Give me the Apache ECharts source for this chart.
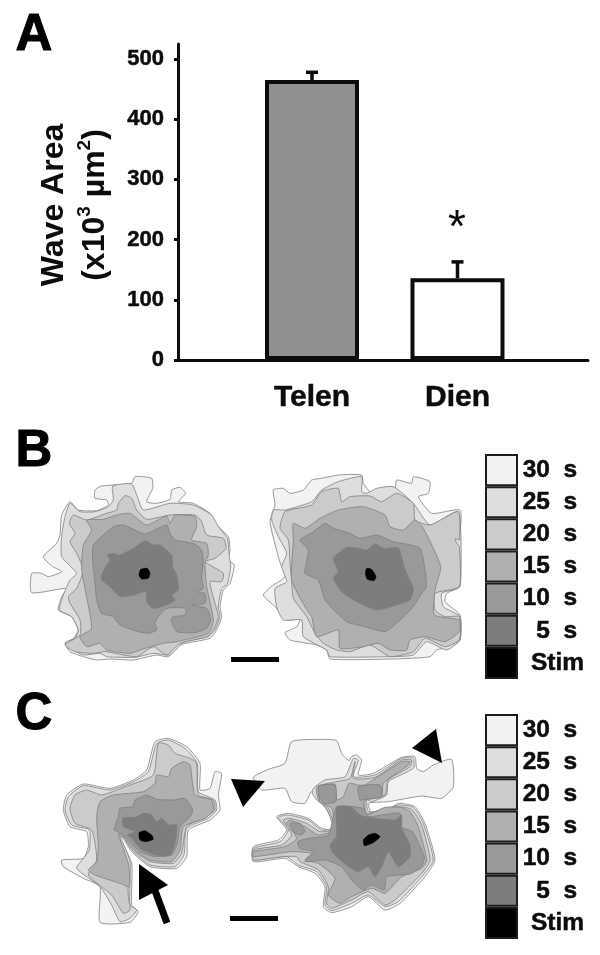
<!DOCTYPE html>
<html>
<head>
<meta charset="utf-8">
<style>html,body{margin:0;padding:0;background:#fff}#c{width:600px;height:955px}</style>
<script src="https://cdn.jsdelivr.net/npm/echarts@6/dist/echarts.min.js"></script>
</head>
<body>
<div id="c"></div>
<script>
// ---- Panel A data ----
var categories = ['Telen', 'Dien'];
var waveArea = [465, 136];
var waveAreaUpper = [478, 163];
var yTicks = [0, 100, 200, 300, 400, 500];
var barColors = ['#8f8f8f', '#ffffff'];

// ---- Legend data ----
var legendLabels = ['30  s', '25  s', '20  s', '15  s', '10  s', '5  s', 'Stim'];
var levelColors = ['#f2f2f2', '#dedede', '#cbcbcb', '#b0b0b0', '#999999', '#7d7d7d', '#000000'];

// ---- Contours (map units, y downward) ----
var b1_30 = [[335,70],[345,50],[395,55],[398,85],[380,125],[410,130],[450,118],[455,90],[480,82],[497,100],[475,125],[520,130],[570,160],[590,195],[625,230],[630,270],[625,300],[643,315],[630,370],[610,390],[600,440],[605,470],[590,510],[570,535],[480,555],[445,590],[410,585],[340,600],[270,597],[230,600],[190,590],[150,575],[135,550],[160,535],[175,510],[155,470],[115,450],[125,410],[140,385],[35,398],[35,340],[65,340],[85,350],[125,335],[95,318],[70,290],[110,250],[120,225],[125,165],[150,125],[175,150],[230,152],[265,135],[260,120],[225,115],[225,90],[245,78]];
var b1_25 = [[278,78],[335,72],[352,110],[370,150],[450,130],[520,135],[575,165],[595,200],[622,235],[628,290],[632,320],[622,372],[605,385],[595,440],[600,470],[585,510],[565,530],[490,548],[450,585],[400,580],[345,592],[260,590],[240,580],[190,585],[160,570],[135,548],[165,535],[175,510],[155,470],[118,450],[130,405],[150,360],[170,340],[125,290],[125,230],[135,170],[150,130],[180,155],[225,155],[265,140],[280,120]];
var b1_20 = [[295,130],[315,107],[335,115],[350,150],[380,178],[450,165],[525,165],[545,185],[560,225],[610,235],[618,265],[585,295],[555,305],[610,340],[605,365],[570,365],[585,430],[595,470],[580,510],[560,530],[480,550],[440,585],[400,560],[350,590],[260,575],[250,575],[220,580],[165,575],[135,555],[180,525],[180,480],[150,430],[145,410],[170,385],[190,330],[170,280],[150,245],[165,220],[148,190],[160,165],[200,180],[260,160],[290,150]];
var b1_15 = [[200,180],[250,178],[290,165],[330,160],[380,195],[440,168],[450,190],[465,165],[525,170],[530,200],[515,240],[560,250],[565,285],[555,310],[560,380],[580,480],[565,520],[470,545],[430,550],[360,570],[330,580],[260,570],[240,550],[200,560],[180,530],[215,505],[185,330],[190,255],[215,210]];
var b1_10 = [[220,255],[280,200],[310,195],[345,210],[375,222],[440,195],[450,220],[465,240],[520,250],[545,270],[550,300],[545,355],[550,385],[530,395],[555,400],[555,430],[515,435],[560,445],[572,480],[560,505],[525,518],[470,515],[453,480],[460,470],[495,465],[497,445],[440,445],[415,470],[405,490],[410,510],[385,520],[355,515],[300,495],[280,470],[245,460],[230,420],[225,370],[218,300]];
var b1_5 = [[262,285],[278,280],[300,285],[340,265],[375,242],[400,255],[420,255],[455,285],[458,320],[470,345],[475,390],[455,405],[465,420],[440,435],[400,445],[380,425],[378,395],[340,405],[300,410],[270,380],[245,360],[245,345],[260,315],[270,300]];
var b1_stim = [[362,328],[382,325],[390,340],[385,355],[365,357],[357,345]];

var b2_30 = [[70,90],[100,85],[120,100],[160,90],[185,60],[215,55],[265,45],[335,45],[340,70],[365,100],[400,100],[435,85],[440,60],[485,70],[490,50],[540,65],[535,100],[505,110],[545,160],[630,150],[630,220],[620,240],[630,260],[630,380],[590,400],[585,425],[630,465],[630,540],[600,560],[560,570],[540,590],[430,597],[240,597],[230,570],[200,555],[160,548],[120,540],[105,518],[140,500],[150,478],[110,480],[75,440],[40,405],[70,375],[95,360],[110,340],[95,320],[85,290],[60,185],[75,135]];
var b2_25 = [[65,180],[70,150],[105,150],[185,125],[215,90],[265,65],[335,50],[335,95],[350,100],[380,85],[430,80],[490,130],[540,195],[625,155],[628,380],[575,400],[580,440],[630,470],[630,540],[590,570],[530,545],[490,585],[420,590],[240,590],[230,570],[160,530],[155,480],[100,480],[80,440],[75,385],[110,365],[95,320],[110,280],[85,230]];
var b2_20 = [[105,155],[185,135],[215,95],[265,85],[275,125],[300,110],[360,108],[395,125],[440,100],[490,130],[495,180],[540,195],[625,155],[628,240],[615,235],[620,250],[628,260],[628,380],[555,400],[555,450],[585,470],[628,470],[628,540],[585,560],[525,535],[490,575],[420,590],[360,555],[300,575],[260,570],[220,550],[195,520],[170,470],[130,415],[125,360],[120,310],[115,240],[90,205]];
var b2_15 = [[130,190],[165,205],[210,175],[265,150],[340,140],[405,165],[420,200],[460,210],[495,180],[520,205],[572,320],[555,390],[553,465],[628,480],[628,515],[585,545],[525,530],[480,540],[470,570],[420,570],[385,550],[340,560],[270,565],[265,510],[200,530],[185,470],[165,440],[125,360],[130,240]];
var b2_10 = [[150,240],[190,215],[225,190],[250,205],[300,220],[330,235],[380,225],[430,245],[510,265],[530,380],[515,400],[490,440],[440,490],[405,515],[345,500],[290,485],[225,420],[205,360],[165,340],[175,270]];
var b2_5 = [[250,295],[290,262],[325,265],[350,270],[375,252],[400,265],[445,265],[465,330],[490,385],[480,420],[440,435],[380,450],[320,425],[275,395],[250,355],[265,335]];
var b2_stim = [[350,325],[365,328],[378,350],[372,362],[352,358],[346,340]];

var c1_30 = [[70,270],[80,225],[130,192],[210,205],[280,180],[320,150],[345,65],[385,55],[440,80],[480,130],[480,210],[510,205],[525,155],[545,160],[535,225],[540,270],[510,300],[445,330],[440,410],[410,445],[330,440],[275,395],[250,355],[235,345],[275,430],[275,555],[295,575],[270,607],[180,607],[180,500],[130,475],[70,440],[65,420],[130,415],[145,380],[140,335],[90,320]];
var c1_25 = [[75,270],[85,230],[130,197],[210,210],[280,185],[325,155],[350,70],[385,60],[435,85],[472,130],[475,215],[525,240],[530,270],[505,295],[440,325],[432,405],[405,440],[330,435],[280,395],[250,350],[240,345],[270,425],[270,555],[290,570],[270,595],[240,605],[215,555],[180,500],[110,445],[130,415],[148,390],[148,330],[95,315]];
var c1_20 = [[90,265],[105,225],[140,210],[185,225],[270,195],[340,165],[355,70],[385,75],[405,100],[450,115],[470,130],[475,225],[520,240],[525,270],[500,290],[440,320],[425,400],[400,430],[330,425],[285,395],[255,360],[235,345],[260,420],[265,530],[270,570],[250,580],[215,525],[145,465],[170,420],[155,330],[105,310]];
var c1_15 = [[180,245],[220,225],[310,215],[345,190],[350,165],[385,170],[395,145],[430,125],[450,135],[465,225],[515,240],[520,270],[495,295],[430,320],[420,390],[395,425],[330,420],[290,395],[260,360],[235,340],[265,430],[268,500],[240,490],[165,465],[145,450],[170,425],[175,380],[170,290]];
var c1_10 = [[240,265],[278,260],[285,240],[320,225],[350,238],[400,240],[435,235],[458,270],[450,290],[420,320],[412,370],[395,405],[345,410],[300,395],[265,360],[235,335],[222,330],[235,290]];
var c1_5 = [[248,295],[285,292],[310,280],[335,285],[350,305],[365,295],[385,315],[410,315],[405,370],[390,405],[345,405],[300,385],[275,355],[262,345],[285,335],[250,320]];
var c1_stim = [[297,338],[315,332],[335,345],[340,358],[318,365],[300,360]];

var c2_30 = [[85,172],[130,148],[180,130],[200,65],[290,58],[335,62],[350,100],[372,122],[380,110],[395,105],[410,120],[400,165],[445,160],[530,112],[570,110],[575,145],[595,155],[625,135],[680,118],[685,200],[650,235],[590,228],[490,245],[430,250],[440,280],[480,275],[520,250],[570,260],[600,310],[630,420],[600,470],[525,550],[480,570],[430,530],[380,560],[320,578],[295,560],[300,500],[270,460],[220,440],[180,415],[85,425],[85,380],[160,360],[185,330],[155,290],[190,280],[250,295],[290,325],[325,330],[325,310],[305,270],[260,215],[240,250],[200,245],[180,205],[110,210]];
var c2_25 = [[265,205],[300,180],[360,170],[385,115],[400,120],[385,170],[450,165],[530,115],[565,115],[565,145],[490,185],[485,225],[440,245],[425,240],[430,275],[480,270],[520,255],[565,262],[595,310],[625,420],[595,465],[520,545],[480,560],[430,525],[380,550],[320,572],[300,555],[305,500],[275,455],[220,435],[185,410],[85,420],[85,385],[165,365],[190,330],[160,292],[190,285],[250,300],[290,330],[330,325],[320,305],[305,265],[275,240],[262,220]];
var c2_20 = [[275,200],[335,185],[375,175],[390,125],[385,175],[450,172],[530,120],[560,120],[555,140],[490,180],[480,225],[430,235],[420,240],[425,280],[480,265],[520,260],[560,268],[590,315],[615,420],[590,460],[510,540],[480,555],[430,515],[380,540],[320,565],[305,550],[310,500],[280,450],[225,425],[215,410],[170,410],[85,420],[85,390],[170,375],[200,345],[175,300],[195,295],[245,310],[285,335],[325,330],[325,310],[310,265],[280,240]];
var c2_15 = [[280,200],[330,193],[335,240],[355,230],[372,190],[400,195],[420,195],[530,125],[555,125],[550,135],[475,190],[470,230],[420,240],[415,250],[425,285],[480,262],[525,262],[555,275],[580,320],[605,420],[590,445],[530,470],[480,520],[440,505],[380,530],[345,550],[310,525],[330,475],[280,430],[240,420],[260,400],[200,395],[85,410],[85,395],[180,380],[215,355],[185,310],[195,300],[240,320],[280,345],[320,335],[330,320],[320,265],[285,245]];
var c2_10a = [[218,365],[250,355],[310,345],[335,260],[415,265],[430,290],[470,285],[525,280],[525,320],[562,335],[598,410],[590,438],[555,462],[485,470],[478,510],[440,495],[415,510],[380,480],[350,440],[300,420],[240,425],[265,395],[225,385]];
var c2_10b = [[282,198],[330,195],[332,245],[300,250],[285,235]];
var c2_10c = [[400,200],[465,195],[470,230],[420,238],[405,240]];
var c2_10d = [[195,310],[225,310],[240,335],[225,345],[205,335]];
var c2_5 = [[315,375],[335,350],[335,262],[380,262],[405,285],[450,295],[510,300],[530,285],[530,325],[555,375],[555,410],[520,440],[490,395],[470,440],[450,470],[430,440],[400,455],[370,440],[325,400]];
var c2_stim = [[415,360],[430,345],[450,340],[465,350],[445,368],[418,377]];

var maps = [
  { box: [20, 460, 230, 220],  polys: [[b1_30,0],[b1_25,1],[b1_20,2],[b1_15,3],[b1_10,4],[b1_5,5],[b1_stim,6]] },
  { box: [250, 460, 230, 220], polys: [[b2_30,0],[b2_25,1],[b2_20,2],[b2_15,3],[b2_10,4],[b2_5,5],[b2_stim,6]] },
  { box: [40, 720, 200, 220],  polys: [[c1_30,0],[c1_25,1],[c1_20,2],[c1_15,3],[c1_10,4],[c1_5,5],[c1_stim,6]] },
  { box: [225, 720, 240, 220], polys: [[c2_30,0],[c2_25,1],[c2_20,2],[c2_15,3],[c2_10a,4],[c2_10b,4],[c2_10c,4],[c2_10d,4],[c2_5,5],[c2_stim,6]] }
];

var FONT = '"Liberation Sans", Arial, sans-serif';
var INK = '#0c0c0c';
var HEAVY = { textBorderColor: INK, textBorderWidth: 0.5 };
var grids = [{ left: 178, right: 12, top: 44, bottom: 595 }];
var xAxes = [{
  type: 'value', gridIndex: 0, min: 0.079, max: 2.897,
  splitLine: { show: false },
  axisTick: { show: false },
  axisLine: { show: true, onZero: false, lineStyle: { color: INK, width: 3 } },
  axisLabel: Object.assign({
    customValues: [1, 2], margin: 23, color: INK,
    fontFamily: FONT, fontWeight: 'bold', fontSize: 30,
    formatter: function (v) { return categories[v - 1] || ''; }
  }, HEAVY)
}];
var yAxes = [{
  type: 'value', gridIndex: 0, min: 0, max: 525,
  splitLine: { show: false },
  axisLine: { show: true, lineStyle: { color: INK, width: 3 } },
  axisTick: { show: true, customValues: yTicks, length: 4, lineStyle: { color: INK, width: 3 } },
  axisLabel: Object.assign({ customValues: yTicks, margin: 14, color: INK, fontFamily: FONT, fontWeight: 'bold', fontSize: 22 }, HEAVY),
  name: '{t|Wave Area}\n{u|(x10}{s|3}{u| µm}{s|2}{u|)}',
  nameLocation: 'middle', nameRotate: 90, nameGap: 62,
  nameTextStyle: {
    color: INK, padding: [0, 6, 0, 0],
    rich: {
      t: { fontFamily: FONT, fontWeight: 'bold', fontSize: 32, lineHeight: 41, color: INK },
      u: { fontFamily: FONT, fontWeight: 'bold', fontSize: 32, lineHeight: 41, color: INK },
      s: { fontFamily: FONT, fontWeight: 'bold', fontSize: 19, lineHeight: 41, color: INK, verticalAlign: 'top', padding: [0, 0, 10, 0] }
    }
  }
}];

var series = [
  {
    type: 'bar', xAxisIndex: 0, yAxisIndex: 0, barWidth: 94,
    data: waveArea.map(function (v, i) {
      return { value: [i + 1, v], itemStyle: { color: barColors[i], borderColor: INK, borderWidth: 4 } };
    })
  },
  {
    type: 'custom', xAxisIndex: 0, yAxisIndex: 0, z: 1,
    data: waveArea.map(function (v, i) { return [i + 1, v, waveAreaUpper[i]]; }),
    encode: { x: 0, y: [1, 2] },
    renderItem: function (params, api) {
      var lo = api.coord([api.value(0), api.value(1)]);
      var hi = api.coord([api.value(0), api.value(2)]);
      var st = { stroke: INK, lineWidth: 3.5, fill: 'none' };
      return { type: 'group', children: [
        { type: 'line', shape: { x1: lo[0], y1: lo[1], x2: hi[0], y2: hi[1] }, style: st },
        { type: 'line', shape: { x1: hi[0] - 6, y1: hi[1], x2: hi[0] + 6, y2: hi[1] }, style: st }
      ] };
    }
  }
];

// contour maps: each has its own hidden grid whose scale covers the map units
maps.forEach(function (m) {
  var g = grids.length;
  grids.push({ left: m.box[0], top: m.box[1], width: m.box[2], height: m.box[3] });
  xAxes.push({ type: 'value', gridIndex: g, min: 0, max: m.box[2] * 3, show: false });
  yAxes.push({ type: 'value', gridIndex: g, min: 0, max: m.box[3] * 3, inverse: true, show: false });
  m.polys.forEach(function (p) {
    var pts = p[0], lvl = p[1];
    series.push({
      type: 'custom', xAxisIndex: g, yAxisIndex: g, clip: false,
      data: pts,
      encode: { x: 0, y: 1 },
      renderItem: function (params, api) {
        if (params.dataIndex !== 0) return null;
        return {
          type: 'polygon',
          shape: { points: pts.map(function (q) { return api.coord(q); }), smooth: 0.18 },
          style: { fill: levelColors[lvl], stroke: lvl === 6 ? '#000' : '#7f7f7f', lineWidth: lvl === 6 ? 0.5 : 0.8 }
        };
      }
    });
  });
});

// legends: horizontal one-unit bars on a category axis
[[485, 454], [485, 714]].forEach(function (pos) {
  var g = grids.length;
  grids.push({ left: pos[0], top: pos[1], width: 33, height: 225 });
  xAxes.push({ type: 'value', gridIndex: g, min: 0, max: 1, show: false });
  yAxes.push({
    type: 'category', gridIndex: g, data: legendLabels, inverse: true, position: 'right',
    axisLine: { show: false }, axisTick: { show: false },
    axisLabel: Object.assign({
      interval: 0, margin: 66, align: 'right', color: INK,
      fontFamily: FONT, fontWeight: 'bold', fontSize: 24.5,
      formatter: function (v) { return v === 'Stim' ? v : v + ' '; }
    }, HEAVY)
  });
  series.push({
    type: 'bar', xAxisIndex: g, yAxisIndex: g, barWidth: '100%',
    data: levelColors.map(function (c) {
      return { value: 1, itemStyle: { color: c, borderColor: '#1c1c1c', borderWidth: 2 } };
    })
  });
});

function letter(t, x, y) {
  return { type: 'text', left: x, top: y, z: 50,
    style: { text: t, fill: '#000', stroke: '#000', lineWidth: 1, font: 'bold 51px ' + FONT } };
}
function tri(p) {
  return { type: 'polygon', z: 50, shape: { points: p }, style: { fill: '#000' } };
}
function bar(x1, y1, x2, y2) {
  return { type: 'rect', z: 50, shape: { x: x1, y: y1, width: x2 - x1, height: y2 - y1 }, style: { fill: '#000' } };
}

var chart = echarts.init(document.getElementById('c'), null, { renderer: 'canvas', width: 600, height: 955 });
chart.setOption({
  animation: false,
  backgroundColor: '#ffffff',
  grid: grids, xAxis: xAxes, yAxis: yAxes, series: series,
  graphic: [
    letter('A', 15, 10), letter('B', 15, 426), letter('C', 15, 689),
    { type: 'text', z: 50, left: 448, top: 206, style: { text: '*', fill: INK, font: '46px ' + FONT } },
    bar(231, 657, 279, 662), bar(230, 916, 278, 921),
    tri([[139, 864], [168, 885], [139, 900]]),
    { type: 'line', z: 50, shape: { x1: 154, y1: 888, x2: 167, y2: 923 }, style: { stroke: '#000', lineWidth: 7 } },
    tri([[231, 779], [265, 781], [243, 807]]),
    tri([[436, 729], [412, 748], [442, 763]])
  ]
});
</script>
</body>
</html>
